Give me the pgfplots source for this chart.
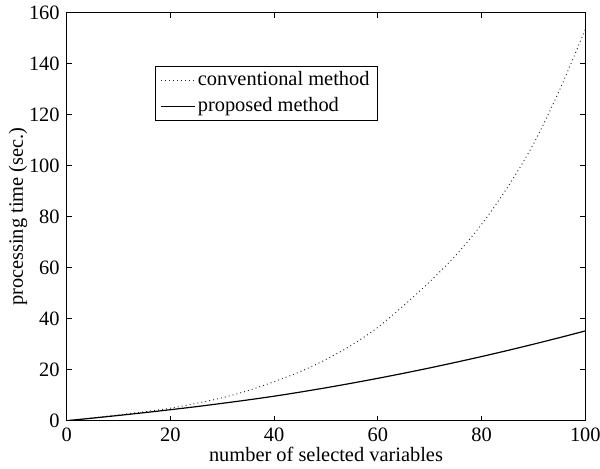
\documentclass[border=0pt]{standalone}
\usepackage{fontspec}
\setmainfont{Liberation Serif}
\usepackage{pgfplots}
\pgfplotsset{compat=1.18}

\pgfplotstableread{
x y
0 0
5 1.1
10 2.3
15 3.5
20 4.9
25 6.8
30 9.0
35 11.8
40 15.3
45 19.2
50 24.0
55 29.7
60 36.6
65 45.2
70 54.5
75 64.8
80 77.0
85 91.5
90 108.5
95 129.5
100 153.5
}\conventional

\pgfplotstableread{
x y
0 0
5 1.0
10 2.05
15 3.15
20 4.3
25 5.5
30 6.8
35 8.15
40 9.6
45 11.2
50 12.9
55 14.71
60 16.61
65 18.6
70 20.69
75 22.88
80 25.15
85 27.52
90 29.99
95 32.55
100 35.2
}\proposed

\begin{document}
\fontsize{15.3}{18}\selectfont
\begin{tikzpicture}
\begin{axis}[
  scale only axis,
  width=389pt, height=306pt,
  xmin=0, xmax=100, ymin=0, ymax=160,
  xtick={0,20,...,100}, ytick={0,20,...,160},
  tick align=inside,
  major tick length=3.8pt,
  axis line style={line width=0.8pt},
  every tick/.style={black, line width=0.6pt},
  /pgf/number format/assume math mode=true,
  tick label style={font=\fontsize{15.3}{18}\selectfont},
  label style={font=\fontsize{15.3}{18}\selectfont},
  xlabel={number of selected variables},
  ylabel={processing time (sec.)},
  xlabel style={at={(axis description cs:0.5,-0.101)}, anchor=base},
  ylabel style={at={(axis description cs:-0.094,0.5)}, anchor=center},
  legend style={at={(axis description cs:0.170,0.870)}, anchor=north west,
    draw=black, line width=0.7pt, font=\fontsize{15.3}{18}\selectfont,
    inner xsep=4pt, inner ysep=2.2pt, row sep=2.5pt},
  legend cell align=left,
  legend image code/.code={\draw[#1] (0pt,0pt) -- (25pt,0pt);},
]
\addplot[black!85, dash pattern=on 0.7pt off 2.3pt, line width=0.7pt, smooth] table[x=x,y=y] {\conventional};
\addlegendentry{conventional method}
\addplot[black, line width=0.9pt, smooth] table[x=x,y=y] {\proposed};
\addlegendentry{proposed method}
\coordinate (sw) at (rel axis cs:0,0);
\coordinate (ne) at (rel axis cs:1,1);
\end{axis}
\pgfresetboundingbox
\path[use as bounding box] (sw) ++(-50pt,-35.5pt) rectangle ([shift={(11pt,9.5pt)}]ne);
\end{tikzpicture}
\end{document}
